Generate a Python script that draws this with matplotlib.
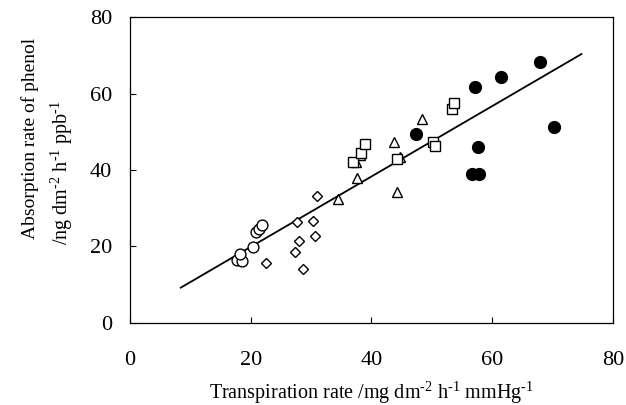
import matplotlib
matplotlib.use('Agg')
import matplotlib.pyplot as plt
import numpy as np

plt.rcParams['font.family'] = ['Liberation Serif', 'DejaVu Serif']
plt.rcParams['mathtext.fontset'] = 'custom'
plt.rcParams['mathtext.rm'] = 'Liberation Serif'

# open circles
circ_x = [17.8, 18.6, 18.2, 20.3, 20.9, 21.4, 21.8]
circ_y = [16.5, 16.1, 18.0, 19.9, 23.7, 24.7, 25.5]
# open diamonds
diam_x = [22.5, 27.3, 27.7, 28.0, 28.7, 30.4, 30.7, 31.0]
diam_y = [15.6, 18.6, 26.3, 21.4, 14.1, 26.7, 22.8, 33.2]
# open triangles
tri_x = [34.4, 37.6, 37.4, 38.1, 43.7, 44.7, 44.2, 48.4]
tri_y = [32.3, 37.8, 42.0, 43.9, 47.4, 43.5, 34.3, 53.3]
# open squares
sq_x = [37.0, 38.2, 38.9, 44.3, 50.2, 50.5, 53.4, 53.6]
sq_y = [42.2, 44.4, 46.8, 42.8, 47.4, 46.4, 55.9, 57.4]
# filled circles
dot_x = [47.4, 56.6, 57.8, 57.6, 57.1, 61.4, 68.0, 70.3]
dot_y = [49.3, 38.9, 38.9, 46.0, 61.8, 64.2, 68.2, 51.2]

# regression line
fit_x = [8.4, 74.8]
slope, intercept = 0.92, 1.5

fig = plt.figure(figsize=(6.26, 4.05), dpi=100)
ax = fig.add_axes([0.2077, 0.2025, 0.7713, 0.7555])

fx = np.array(fit_x)
ax.plot(fx, slope * fx + intercept, color='black', lw=1.3, zorder=1)

kw = dict(linestyle='none', markerfacecolor='white', markeredgecolor='black',
          markeredgewidth=1.0, zorder=2)
ax.plot(circ_x, circ_y, marker='o', markersize=7.8, **kw)
ax.plot(diam_x, diam_y, marker='D', markersize=5.4, **kw)
ax.plot(tri_x, tri_y, marker='^', markersize=7.8, **kw)
ax.plot(sq_x, sq_y, marker='s', markersize=7.0, **kw)
ax.plot(dot_x, dot_y, marker='o', markersize=8.5, linestyle='none',
        color='black', zorder=3)

ax.set_xlim(0, 80)
ax.set_ylim(0, 80)
ax.set_xticks([0, 20, 40, 60, 80])
ax.set_yticks([0, 20, 40, 60, 80])
ax.tick_params(direction='in', length=4, width=0.8, labelsize=16)
ax.tick_params(axis='x', pad=20)
ax.tick_params(axis='y', pad=13)
for s in ax.spines.values():
    s.set_linewidth(0.9)

ax.set_xlabel(r'Transpiration rate /mg dm$^{\text{-2}}$ h$^{\text{-1}}$ mmHg$^{\text{-1}}$',
              fontsize=14.5, labelpad=7)
fig.text(0.048, 0.659, 'Absorption rate of phenol', rotation=90, fontsize=14,
         ha='center', va='center')
fig.text(0.098, 0.573, r'/ng dm$^{\text{-2}}$ h$^{\text{-1}}$ ppb$^{\text{-1}}$', rotation=90,
         fontsize=14.5, ha='center', va='center')

fig.savefig('out.png', dpi=100)
